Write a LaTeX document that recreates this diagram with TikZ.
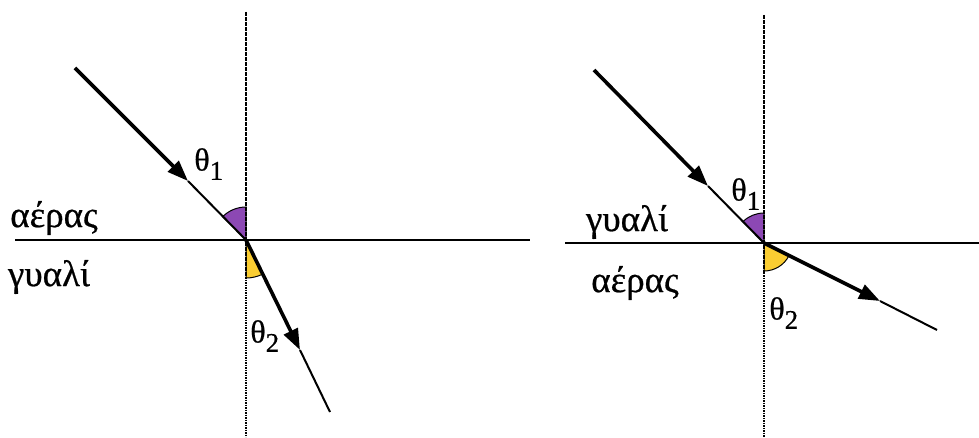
\documentclass[tikz,border=0pt]{standalone}
\usepackage{fontspec}
\setmainfont{Liberation Serif}
\newfontfamily\labfont{Liberation Serif}[FakeBold=0.6]
\usetikzlibrary{arrows.meta}
\definecolor{violetw}{RGB}{140,72,180}
\definecolor{yelloww}{RGB}{250,205,50}
\tikzset{
  normalline/.style={line width=2.4pt,dash pattern=on 1.6pt off 0.9pt},
  surface/.style={line width=1.8pt},
  thickray/.style={line width=3.6pt,-{Triangle[length=21pt,width=15pt]}},
  thinray/.style={line width=2pt},
  medlabel/.style={font=\labfont\fontsize{37}{40}\selectfont,inner sep=0pt},
  anglabel/.style={font=\labfont\fontsize{32}{36}\selectfont,inner sep=0pt},
  wedgeA/.style={fill=violetw,draw=black,line width=1pt},
  wedgeB/.style={fill=yelloww,draw=black,line width=1pt}
}
\newcommand{\thlab}[1]{θ\textsubscript{\fontsize{27}{28}\selectfont #1}}
\begin{document}
\begin{tikzpicture}[x=1pt,y=1pt]
\useasboundingbox (0,0) rectangle (979,437);
% ---------- left diagram ----------
\coordinate (O1) at (246,197);
\coordinate (V1t) at (246,425);
\coordinate (V1b) at (246,0);
\coordinate (H1l) at (15,197);
\coordinate (H1r) at (530,197);
\coordinate (A1) at (75,369);
\coordinate (T1) at (188,256);
\coordinate (R1) at (300,87);
\coordinate (B1) at (330,25);
\fill[wedgeA] (O1) -- ++(90:33) arc[start angle=90,end angle=135,radius=33] -- cycle;
\fill[wedgeB] (O1) -- ++(270:38) arc[start angle=270,end angle=296,radius=38] -- cycle;
\draw[normalline] (V1t) -- (V1b);
\draw[surface] (H1l) -- (H1r);
\draw[thickray] (A1) -- (T1);
\draw[thinray] (T1) -- (O1);
\draw[thickray] (O1) -- (R1);
\draw[thinray] (R1) -- (B1);
\node[medlabel] (air1) at (54,219) {αέρας};
\node[medlabel] (glass1) at (49,160) {γυαλί};
\node[anglabel] (th11) at (209,273) {\thlab{1}};
\node[anglabel] (th21) at (265,101) {\thlab{2}};
% ---------- right diagram ----------
\coordinate (O2) at (764,194);
\coordinate (V2t) at (764,422);
\coordinate (V2b) at (764,0);
\coordinate (H2l) at (565,194);
\coordinate (H2r) at (979,194);
\coordinate (A2) at (594,367);
\coordinate (T2) at (708,251);
\coordinate (R2) at (880,136);
\coordinate (B2) at (937,107);
\fill[wedgeA] (O2) -- ++(90:30) arc[start angle=90,end angle=134.5,radius=30] -- cycle;
\fill[wedgeB] (O2) -- ++(270:28) arc[start angle=270,end angle=333.3,radius=28] -- cycle;
\draw[normalline] (V2t) -- (V2b);
\draw[surface] (H2l) -- (H2r);
\draw[thickray] (A2) -- (T2);
\draw[thinray] (T2) -- (O2);
\draw[thickray] (O2) -- (R2);
\draw[thinray] (R2) -- (B2);
\node[medlabel] (glass2) at (627,215) {γυαλί};
\node[medlabel] (air2) at (635,154) {αέρας};
\node[anglabel] (th12) at (746,243) {\thlab{1}};
\node[anglabel] (th22) at (784,124) {\thlab{2}};
\end{tikzpicture}
\end{document}
